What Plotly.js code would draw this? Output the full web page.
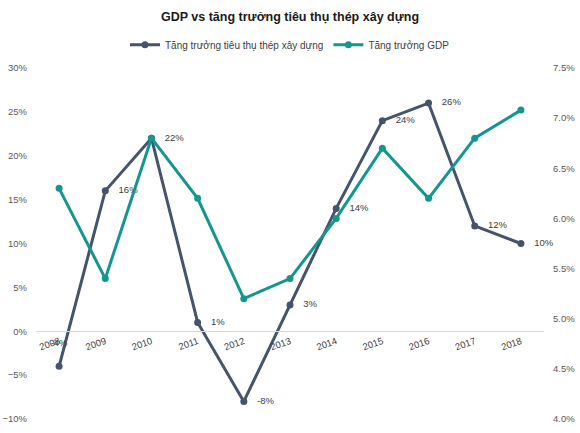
<!DOCTYPE html>
<html>
<head>
<meta charset="utf-8">
<script src="https://cdn.plot.ly/plotly-3.0.1.min.js"></script>
<style>
  html, body { margin: 0; padding: 0; background: #fff; }
  #chart { width: 580px; height: 433px; }
</style>
</head>
<body>
<div id="chart"></div>
<script>
/***** GDP vs steel *****/
var years = ['2008', '2009', '2010', '2011', '2012', '2013', '2014', '2015', '2016', '2017', '2018'];
var steelGrowth = [-4, 16, 22, 1, -8, 3, 14, 24, 26, 12, 10];
var gdpGrowth = [6.3, 5.4, 6.8, 6.2, 5.2, 5.4, 6.0, 6.7, 6.2, 6.8, 7.08];

// first label sits above its point (over the 2008 tick), the rest to the right
var steelLabels = steelGrowth.map(function (v, i) {
  return i === 0 ? v + '%<br> ' : '   ' + v + '%';
});
var steelPos = steelGrowth.map(function (v, i) {
  return i === 0 ? 'top center' : 'middle right';
});

var steelColor = '#44546a';
var gdpColor = '#139690';
var font = 'Liberation Sans, Arial, sans-serif';

var steel = {
  x: years,
  y: steelGrowth,
  type: 'scatter',
  mode: 'lines+markers+text',
  name: 'Tăng trưởng tiêu thụ thép xây dựng',
  text: steelLabels,
  textposition: steelPos,
  textfont: { family: font, size: 9.5, color: '#404040' },
  cliponaxis: false,
  marker: { color: steelColor, size: 7 },
  line: { color: steelColor, width: 3 },
  yaxis: 'y'
};

var gdp = {
  x: years,
  y: gdpGrowth,
  type: 'scatter',
  mode: 'lines+markers',
  name: 'Tăng trưởng GDP',
  marker: { color: gdpColor, size: 7 },
  line: { color: gdpColor, width: 3 },
  yaxis: 'y2'
};

var layout = {
  width: 580,
  height: 433,
  margin: { l: 36, r: 36, t: 68, b: 14 },
  paper_bgcolor: '#fff',
  plot_bgcolor: '#fff',
  font: { family: font, size: 10, color: '#595959' },
  title: {
    text: '<b>GDP vs tăng trưởng tiêu thụ thép xây dựng</b>',
    font: { family: font, size: 12.5, color: '#1a1a1a' },
    x: 0.5, xanchor: 'center',
    y: 0.962, yanchor: 'middle'
  },
  showlegend: true,
  legend: {
    orientation: 'h',
    x: 0.5, xanchor: 'center',
    y: 1.066, yanchor: 'middle',
    font: { family: font, size: 10, color: '#404040' },
    itemwidth: 30,
    tracegroupgap: 0
  },
  xaxis: {
    type: 'category',
    anchor: 'free',
    position: 0.25,
    showline: true,
    linecolor: '#d9d9d9',
    linewidth: 1,
    showgrid: false,
    zeroline: false,
    ticks: '',
    tickangle: -20,
    tickfont: { family: font, size: 9.5, color: '#404040' },
    range: [-0.5, 10.5]
  },
  yaxis: {
    range: [-10, 30],
    dtick: 5,
    ticksuffix: '%',
    showgrid: false,
    zeroline: false,
    showline: false,
    ticks: '',
    ticklabelstandoff: 8,
    tickfont: { family: font, size: 9.5, color: '#595959' }
  },
  yaxis2: {
    overlaying: 'y',
    side: 'right',
    range: [4.0, 7.5],
    dtick: 0.5,
    tickformat: '.1f',
    ticksuffix: '%',
    showgrid: false,
    zeroline: false,
    showline: false,
    ticks: '',
    ticklabelstandoff: 8,
    tickfont: { family: font, size: 9.5, color: '#595959' }
  }
};

var config = { staticPlot: true, displayModeBar: false };

var data = [steel, gdp];
Plotly.newPlot('chart', data, layout, config);
</script>
</body>
</html>
